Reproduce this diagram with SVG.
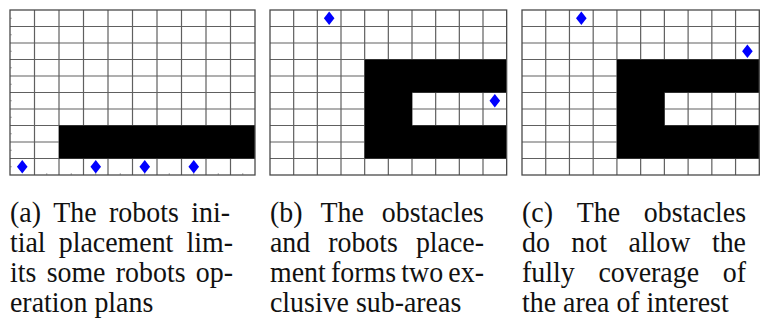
<svg xmlns="http://www.w3.org/2000/svg" width="764" height="321" viewBox="0 0 764 321">
<style>
.bg{fill:#fff}
.grid{stroke:#606060;stroke-width:1.2;fill:none}
.frame{stroke:#4a4a4a;stroke-width:1.3;fill:none}
.obs{fill:#000}
.tick{stroke:#b0b0b0;stroke-width:1}
.robot{fill:#0000ff}
.cap{font-family:"Liberation Serif","Times New Roman",serif;font-size:30px;fill:#111}
.e{text-anchor:end}
</style>
<defs>
<path id="dia" class="robot" d="M0,-6.8 L5.3,0 L0,6.8 L-5.3,0 Z"/>
</defs>
<rect class="bg" x="0" y="0" width="764" height="321"/>

<g id="panel-a">
<path class="grid" d="M34.5 10V175M59 10V175M83.5 10V175M108 10V175M132.5 10V175M157 10V175M181.5 10V175M206 10V175M230.5 10V175M10 26.5H255M10 43H255M10 59.5H255M10 76H255M10 92.5H255M10 109H255M10 125.5H255M10 142H255M10 158.5H255"/>
<path class="tick" d="M10 18.25h2M10 34.75h2M10 51.25h2M10 67.75h2M10 84.25h2M10 100.75h2M10 117.25h2M10 133.75h2M10 150.25h2M10 166.75h2M46.75 175v-2M71.25 175v-2M95.75 175v-2M120.25 175v-2M144.75 175v-2M169.25 175v-2M193.75 175v-2M218.25 175v-2M242.75 175v-2"/>
<rect class="obs" x="59" y="125.5" width="196" height="33"/>
<rect class="frame" x="10" y="10" width="245" height="165"/>
<g id="robot-a1"><use href="#dia" x="22.25" y="166.75"/></g>
<g id="robot-a2"><use href="#dia" x="95.75" y="166.75"/></g>
<g id="robot-a3"><use href="#dia" x="144.75" y="166.75"/></g>
<g id="robot-a4"><use href="#dia" x="193.75" y="166.75"/></g>
</g>

<g id="panel-b">
<path class="grid" d="M293.67 10V175M317.33 10V175M341 10V175M364.67 10V175M388.33 10V175M412 10V175M435.67 10V175M459.33 10V175M483 10V175M270 26.5H506.67M270 43H506.67M270 59.5H506.67M270 76H506.67M270 92.5H506.67M270 109H506.67M270 125.5H506.67M270 142H506.67M270 158.5H506.67"/>
<path class="obs" d="M364.67 59.5H506.67V92.5H412V125.5H506.67V158.5H364.67Z"/>
<rect class="frame" x="270" y="10" width="236.67" height="165"/>
<g id="robot-b1"><use href="#dia" x="329.17" y="18.25"/></g>
<g id="robot-b2"><use href="#dia" x="494.83" y="100.75"/></g>
</g>

<g id="panel-c">
<path class="grid" d="M545.73 10V175M569.46 10V175M593.19 10V175M616.92 10V175M640.65 10V175M664.38 10V175M688.11 10V175M711.84 10V175M735.57 10V175M522 26.5H759.3M522 43H759.3M522 59.5H759.3M522 76H759.3M522 92.5H759.3M522 109H759.3M522 125.5H759.3M522 142H759.3M522 158.5H759.3"/>
<path class="obs" d="M616.92 59.5H759.3V92.5H664.38V125.5H759.3V158.5H616.92Z"/>
<rect class="frame" x="522" y="10" width="237.3" height="165"/>
<g id="robot-c1"><use href="#dia" x="581.33" y="18.25"/></g>
<g id="robot-c2"><use href="#dia" x="747.4" y="51.25"/></g>
</g>

<g id="captions" class="cap" transform="scale(0.93 1)">
<g id="caption-a">
<text y="221.7"><tspan x="10.75">(a)</tspan><tspan x="57.36">The</tspan><tspan x="117.3">robots</tspan><tspan class="e" x="247.31">ini-</tspan></text>
<text y="251.7"><tspan x="10.75">tial</tspan><tspan x="63.18">placement</tspan><tspan class="e" x="250.54">lim-</tspan></text>
<text y="281.7"><tspan x="10.75">its</tspan><tspan x="50.15">some</tspan><tspan x="124.53">robots</tspan><tspan class="e" x="250.54">op-</tspan></text>
<text y="311.7" x="10.75">eration plans</text>
</g>
<g id="caption-b">
<text y="221.7"><tspan x="290.32">(b)</tspan><tspan x="344.55">The</tspan><tspan class="e" x="520.43">obstacles</tspan></text>
<text y="251.7"><tspan x="290.32">and</tspan><tspan x="352.89">robots</tspan><tspan class="e" x="520.43">place-</tspan></text>
<text y="281.7"><tspan x="290.32">ment</tspan><tspan x="355.91">forms</tspan><tspan x="431.51">two</tspan><tspan class="e" x="520.43">ex-</tspan></text>
<text y="311.7" x="290.32">clusive sub-areas</text>
</g>
<g id="caption-c">
<text y="221.7"><tspan x="561.29">(c)</tspan><tspan x="620.07">The</tspan><tspan class="e" x="802.15">obstacles</tspan></text>
<text y="251.7"><tspan x="561.29">do</tspan><tspan x="614.37">not</tspan><tspan x="675.78">allow</tspan><tspan class="e" x="802.15">the</tspan></text>
<text y="281.7"><tspan x="561.29">fully</tspan><tspan x="643.44">coverage</tspan><tspan class="e" x="802.15">of</tspan></text>
<text y="311.7" x="561.29">the area of interest</text>
</g>
</g>
</svg>
